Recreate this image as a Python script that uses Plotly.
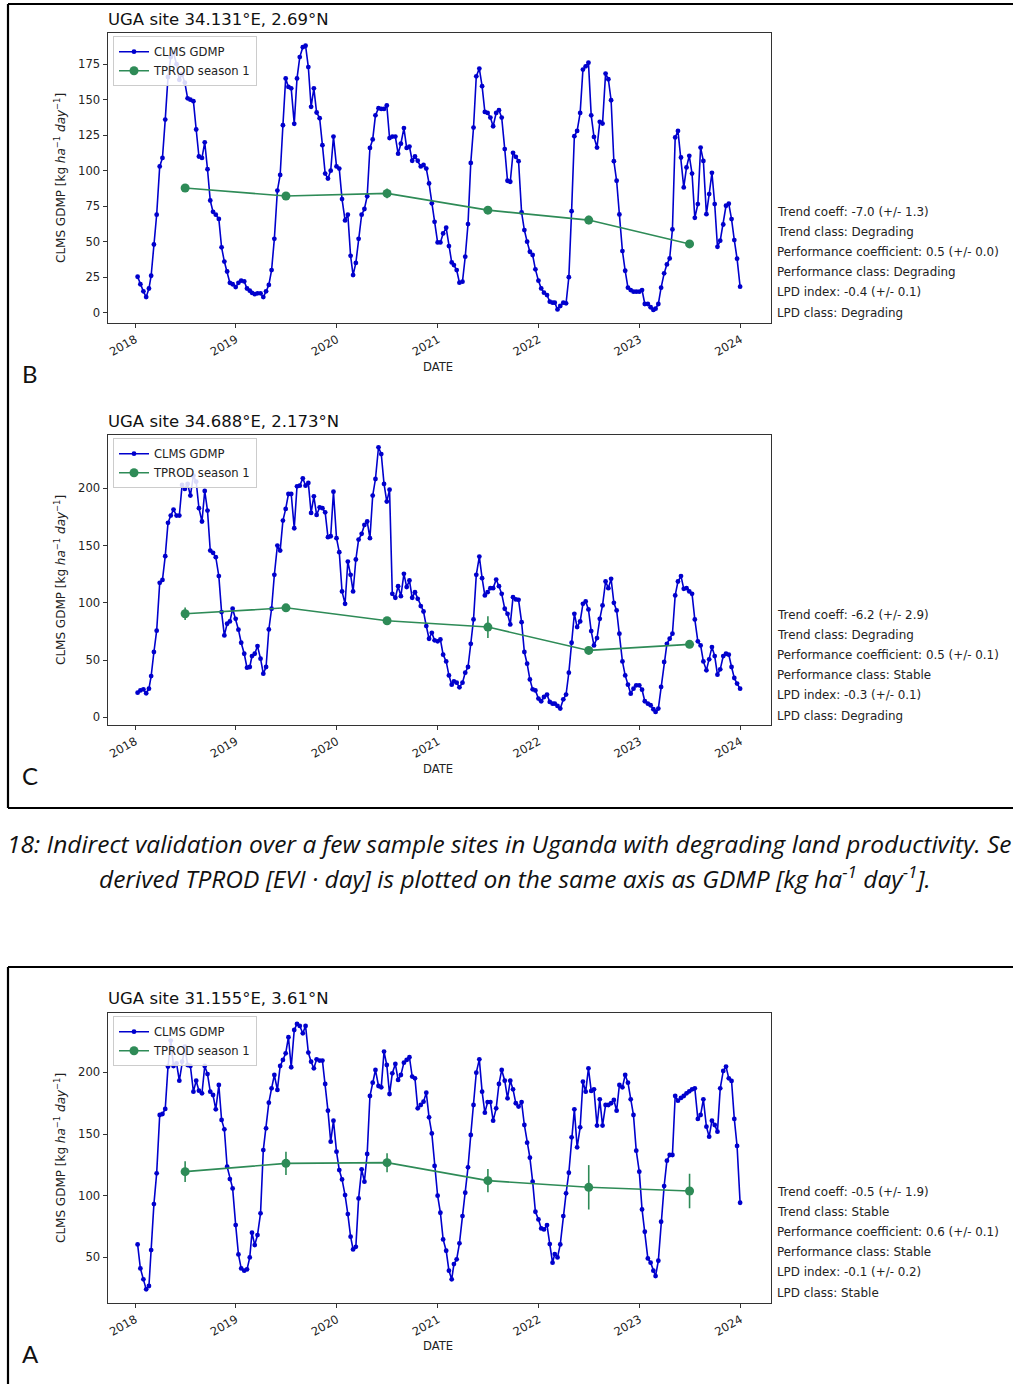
import calendar
import plotly.graph_objects as go

W, H = 1013, 1384

# ---------------- data ----------------
years = list(range(2018, 2024))
year_ticks = [f"{y}-01-01" for y in range(2018, 2025)]
year_labels = [str(y) for y in range(2018, 2025)]
season_dates = [f"{y}-07-01" for y in years]

gdmp_B = [
    25.3, 20, 15, 11, 17, 26, 48, 69, 103, 109,
    136, 166, 180, 183, 175, 164, 168, 162, 151, 150,
    149, 129, 110, 109, 120, 101, 79, 71, 69, 66,
    46, 36, 29, 21, 20, 18, 21, 22.5, 22, 17,
    15.5, 14, 13, 13.6, 13.6, 11, 15, 19.5, 30, 52,
    86, 97, 132, 165, 159, 158, 133, 165, 180, 187,
    188, 173, 145, 158, 141, 137, 118, 98, 94.5, 100,
    124, 103, 101.5, 80, 65, 69, 40, 26.5, 35, 52,
    69, 73, 82, 116, 122, 139, 144, 143.5, 143.5, 146,
    123, 124, 124, 112, 119, 130, 116, 117, 107, 110,
    107, 103, 104, 101.5, 91, 77, 64, 49.5,
    49.5, 55.8, 59.8, 46.9, 35.4, 33.5, 30, 21.1, 21.8, 39.4,
    62.4, 105.5, 130.4, 166.5, 171.9, 159.5, 141.4, 140.7, 137.4, 131.3,
    140.7, 142.6, 137.4, 115.2, 92.9, 92.2, 112.6, 109.8, 106.7, 70.6,
    58.2, 50, 42.9, 40.6, 30.5, 22.5, 17.1, 14.1, 12.4, 7.7,
    7, 7, 2.3, 4.7, 7, 6.6, 25,
    71.5, 124.3, 128, 140.7, 171.2, 173.5, 176.1, 139, 123.8, 116.3,
    134.4, 133.2, 168.4, 164.4, 149.6, 106.7, 92.9, 69.2, 43.4, 29.5,
    17.6, 15.9, 14.8, 14.8, 14.8, 15.9, 6.1, 6.1, 3.8, 1.9,
    2.8, 6.1, 17.6, 27.7, 34, 38.2, 58.6, 123.4, 128, 109.3,
    88.2, 102.3, 110.5, 98, 66.8, 76.5, 116.3, 106.9, 69.4, 83.5,
    98.5, 76.5, 46.4, 50.7, 62.1, 75.3, 76.7, 65.9, 51.1, 38, 18.3,
]
tprod_B = [87.8, 82.2, 84.0, 72.2, 65.2, 48.4]
tprod_B_err = [1.0, 2.5, 3.5, 2.5, 3.0, 1.0]

gdmp_C = [
    21.5, 23.5, 24.4, 21, 25, 36, 57, 75.6, 117.4, 120,
    140.7, 169.8, 176.2, 181.4, 176.2, 176.2, 202.9, 199.4, 203.8, 193.6,
    211, 205.8, 182.6, 171, 197.7, 180.5, 145.6, 143.6, 139.8, 123.3,
    91.9, 71.5, 81.7, 83.7, 94.8, 86, 76.5, 65.1, 55.5, 43.3,
    43.9, 53.5, 55.5, 62.2, 51.2, 38.1, 43.9, 76.7, 94.8, 124.4,
    150, 145.6, 171.8, 182, 195, 195, 165.1, 201.7, 202.3, 208.7,
    202.3, 204.7, 178.5, 193, 176.7, 183.4, 182.6, 179, 157.3, 158.1,
    197, 156.4, 144.2, 109.9, 99.1, 136, 124.4, 109.9, 137.8, 155.2,
    160.2, 168, 171, 156.4, 193.6, 208.1, 235.8, 229.9, 203.8, 188.4,
    198.8, 107.8, 104.4, 114.5, 105.8, 125.3, 113.7, 119.5, 104.4, 109.3,
    103.5, 97.1, 92.4, 79.7, 68.6, 73.8, 67.2, 66.3,
    68, 54.7, 48.8, 36.6, 28.5, 31.4, 30.2, 26.2, 30.2, 39,
    43.9, 64.2, 85.5, 124.4, 140.4, 121.5, 106.4, 109.3, 112.8, 112.8,
    120.3, 114.5, 107.8, 94.8, 90.4, 81.1, 104.9, 102.9, 102.6, 83.1,
    57, 46.8, 33.1, 24.4, 23.5, 16.3, 14, 17.7, 19.8, 13.4,
    11.9, 11.9, 9.9, 7.6, 15.7, 19.8, 39, 65.1, 90.4, 78.8,
    83.7, 99.1, 101.2, 94.2, 75.3, 62.8, 69.2, 86, 97.7, 118.6,
    112.8, 120.9, 100, 93.3, 73, 48.8, 36.6, 28.5, 20.6, 25,
    27.9, 27.9, 24.1, 14, 11.9, 10.5, 7, 4.7, 7.6, 26.5,
    48.3, 64.2, 68.6, 73, 106.4, 118.6, 123.3, 112.2, 112.8, 109.9,
    107.8, 85.5, 66.3, 62.8, 48.8, 41, 50.6, 61.3, 53.5, 37.2,
    41.9, 53.5, 55.5, 54.7, 43.9, 34.3, 29.4, 25,
]
tprod_C = [90.4, 95.6, 84.3, 78.8, 58.4, 63.7]
tprod_C_err = [5.5, 3.0, 2.0, 9.5, 2.0, 3.0]

gdmp_A = [
    60.5, 41.1, 32.2, 24.1, 26.8, 55.9, 93.2, 118.1, 165.4, 166.2,
    170.3, 204.6, 225.7, 205.1, 207.3, 193.2, 208.6, 220.8, 205.9, 205.1,
    184.3, 193.2, 185.1, 183, 205.1, 198.6, 184.3, 181.6, 170, 189.7,
    161.4, 153.8, 123.5, 113.5, 105.9, 76.2, 52.4, 41.1, 39.2, 40.3,
    50, 70, 60, 68.1, 85.7, 137, 154.6, 175.4, 187,
    197.8, 185.7, 205.1, 210, 215.4, 228.4, 204.1, 234.3, 239.2, 237.6,
    231.6, 237.6, 216, 208.6, 203.2, 210.5, 209.5, 209.5, 190.5, 168.9,
    143.8, 160.8, 135.7, 120.8, 113.2, 100.5, 85.1, 66.8, 56.5, 58.6,
    97.8, 121.4, 111.4, 133.8, 180.8, 191.6, 201.9, 188.9, 187.8, 216.8,
    205.9, 182.4, 199.2, 206.8, 193.8, 197.8, 207.8, 210, 212.2, 196.5,
    195.1, 170.8, 173.5, 176.2, 183.5, 163.5, 150.5, 124.1, 100,
    86.2, 64.6, 55.4, 39.2, 32.2, 44.6, 48.4, 61.4, 83.5, 102.4,
    123, 149.2, 173.5, 199.7, 210.5, 184.3, 167.3, 175.9, 175.9, 160.8,
    170.8, 190.5, 201.9, 193.2, 178.9, 193.2, 186.2, 174.9, 172.2, 175.9,
    157.3, 143, 130.8, 111.4, 87, 80.8, 73.5, 72.7, 76.2, 60.8,
    45.7, 52.7, 50, 60.5, 83.5, 101.9, 118.6, 147.3, 170, 139.2,
    155.4, 192.4, 184.3, 203.2, 184.9, 186.2, 156.8, 178.1, 156.8, 173.5,
    173.5, 174.9, 177.6, 168.9, 189.7, 187.8, 197.8, 191.6, 178.1, 165.4,
    136.5, 119.5, 88.9, 70.8, 49.2, 45.7, 39.2, 34.9, 47.3, 78.9,
    107.8, 128.4, 133, 133, 180.8, 177, 179.2, 180.8, 183, 184.6,
    186.2, 187, 162.2, 165.4, 178.1, 155.9, 147.8, 160.8, 157.3, 151.9,
    187, 201.1, 204.6, 195.1, 193, 162.2, 140.3, 94.3,
]
tprod_A = [119.5, 126.2, 126.8, 112.2, 106.8, 103.8]
tprod_A_err = [8.5, 9.5, 7.7, 9.5, 18.0, 14.0]

titles = ["UGA site 34.131°E, 2.69°N", "UGA site 34.688°E, 2.173°N", "UGA site 31.155°E, 3.61°N"]
panel_letters = ["B", "C", "A"]
stats_B = ["Trend coeff: -7.0 (+/- 1.3)", "Trend class: Degrading",
           "Performance coefficient: 0.5 (+/- 0.0)", "Performance class: Degrading",
           "LPD index: -0.4 (+/- 0.1)", "LPD class: Degrading"]
stats_C = ["Trend coeff: -6.2 (+/- 2.9)", "Trend class: Degrading",
           "Performance coefficient: 0.5 (+/- 0.1)", "Performance class: Stable",
           "LPD index: -0.3 (+/- 0.1)", "LPD class: Degrading"]
stats_A = ["Trend coeff: -0.5 (+/- 1.9)", "Trend class: Stable",
           "Performance coefficient: 0.6 (+/- 0.1)", "Performance class: Stable",
           "LPD index: -0.1 (+/- 0.2)", "LPD class: Stable"]
caption_1 = "18: Indirect validation over a few sample sites in Uganda with degrading land productivity. Se"
caption_2 = "derived TPROD [EVI · day] is plotted on the same axis as GDMP [kg ha<sup>-1</sup> day<sup>-1</sup>]."


def dekad_dates():
    out = []
    for y in years:
        for m in range(1, 13):
            last = calendar.monthrange(y, m)[1]
            for d in (10, 20, last):
                out.append(f"{y}-{m:02d}-{d:02d}")
    return out


dates = dekad_dates()

# ---------------- layout geometry (pixels) ----------------
FONT = "DejaVu Sans"
FS = 11.6
X0, X1 = 107.5, 770.5
panels = [
    dict(g=gdmp_B, t=tprod_B, e=tprod_B_err, stats=stats_B, top=32.7, bot=323.3,
         yr=[-7.5, 197.2], ticks=[0, 25, 50, 75, 100, 125, 150, 175], title_y=19,
         stats_y0=212, letter_y=373, xlab_y=367),
    dict(g=gdmp_C, t=tprod_C, e=tprod_C_err, stats=stats_C, top=434.7, bot=725.3,
         yr=[-7.0, 246.8], ticks=[0, 50, 100, 150, 200], title_y=421,
         stats_y0=615, letter_y=775, xlab_y=769),
    dict(g=gdmp_A, t=tprod_A, e=tprod_A_err, stats=stats_A, top=1012.7, bot=1303.3,
         yr=[12.8, 248.3], ticks=[50, 100, 150, 200], title_y=998,
         stats_y0=1192, letter_y=1353, xlab_y=1346),
]


def px(x):
    return x / W


def py(y):
    return 1 - y / H


fig = go.Figure()
annotations = []
shapes = []
layout_axes = {}

for i, p in enumerate(panels):
    n = "" if i == 0 else str(i + 1)
    leg = "legend" if i == 0 else f"legend{i + 1}"
    xa, ya = f"x{n}", f"y{n}"
    fig.add_trace(go.Scatter(
        x=dates[:len(p["g"])], y=p["g"], mode="lines+markers", name="CLMS GDMP",
        line=dict(color="#0000CD", width=1.6), marker=dict(size=4.8, color="#0000CD"),
        xaxis=xa, yaxis=ya, legend=leg))
    fig.add_trace(go.Scatter(
        x=season_dates, y=p["t"], mode="lines+markers", name="TPROD season 1",
        line=dict(color="#2E8B57", width=1.6), marker=dict(size=9, color="#2E8B57"),
        error_y=dict(type="data", array=p["e"], visible=True, color="#2E8B57",
                     thickness=1.6, width=0),
        xaxis=xa, yaxis=ya, legend=leg))

    axis_common = dict(showline=True, linecolor="#333333", linewidth=1, mirror=True,
                       ticks="outside", ticklen=4, tickcolor="#333333", showgrid=False,
                       zeroline=False, tickfont=dict(family=FONT, size=FS, color="#222"))
    layout_axes[f"xaxis{n}"] = dict(
        axis_common, type="date", domain=[px(X0), px(X1)], anchor=ya,
        range=["2017-09-23", "2024-04-19"], tickvals=year_ticks, ticktext=year_labels,
        tickangle=-30)
    layout_axes[f"yaxis{n}"] = dict(
        axis_common, domain=[py(p["bot"]), py(p["top"])], anchor=xa,
        range=p["yr"], tickvals=p["ticks"])

    layout_axes[leg] = dict(
        x=px(113), y=py(p["top"] + 3.5), xanchor="left", yanchor="top",
        bgcolor="rgba(255,255,255,0.85)", bordercolor="#cccccc", borderwidth=1,
        font=dict(family=FONT, size=FS, color="#222"), tracegroupgap=0, itemwidth=30)

    # title
    annotations.append(dict(text=titles[i], x=px(106), y=py(p["title_y"]), xref="paper",
                            yref="paper", xanchor="left", yanchor="middle", showarrow=False,
                            font=dict(family=FONT, size=16.5, color="#111")))
    # y label
    annotations.append(dict(
        text="CLMS GDMP [kg <i>ha</i><sup>−1</sup> <i>day</i><sup>−1</sup>]",
        x=px(60), y=py((p["top"] + p["bot"]) / 2), xref="paper", yref="paper",
        textangle=-90, showarrow=False, xanchor="center", yanchor="middle",
        font=dict(family=FONT, size=12, color="#222")))
    # x label
    annotations.append(dict(text="DATE", x=px(438), y=py(p["xlab_y"]), xref="paper",
                            yref="paper", showarrow=False, xanchor="center", yanchor="middle",
                            font=dict(family=FONT, size=FS, color="#222")))
    # stats
    for k, s in enumerate(p["stats"]):
        annotations.append(dict(text=s, x=px(775), y=py(p["stats_y0"] + k * 20.1),
                                xref="paper", yref="paper", xanchor="left", yanchor="middle",
                                showarrow=False, font=dict(family=FONT, size=11.9, color="#222")))
    # panel letter
    annotations.append(dict(text=panel_letters[i], x=px(30), y=py(p["letter_y"]),
                            xref="paper", yref="paper", xanchor="center", yanchor="middle",
                            showarrow=False, font=dict(family="Lato", size=24, color="#111")))

# captions
annotations.append(dict(text=f"<i>{caption_1}</i>", x=px(5), y=py(843), xref="paper",
                        yref="paper", xanchor="left", yanchor="middle", showarrow=False,
                        font=dict(family="Open Sans", size=24.5, color="#111")))
annotations.append(dict(text=f"<i>{caption_2}</i>", x=px(515), y=py(878), xref="paper",
                        yref="paper", xanchor="center", yanchor="middle", showarrow=False,
                        font=dict(family="Open Sans", size=24.5, color="#111")))

# document frames
frame = dict(type="line", xref="paper", yref="paper", line=dict(color="black", width=2.2))
for (xa_, ya_, xb_, yb_) in [(8, 4, 1013, 4), (8, 4, 8, 808), (8, 808, 1013, 808),
                             (8, 967, 1013, 967), (8, 967, 8, 1384)]:
    shapes.append(dict(frame, x0=px(xa_), y0=py(ya_), x1=px(xb_), y1=py(yb_)))

fig.update_layout(
    width=W, height=H, margin=dict(l=0, r=0, t=0, b=0),
    paper_bgcolor="white", plot_bgcolor="white",
    font=dict(family=FONT, size=FS, color="#222"),
    annotations=annotations, shapes=shapes, **layout_axes)

fig.write_html("out.html")
